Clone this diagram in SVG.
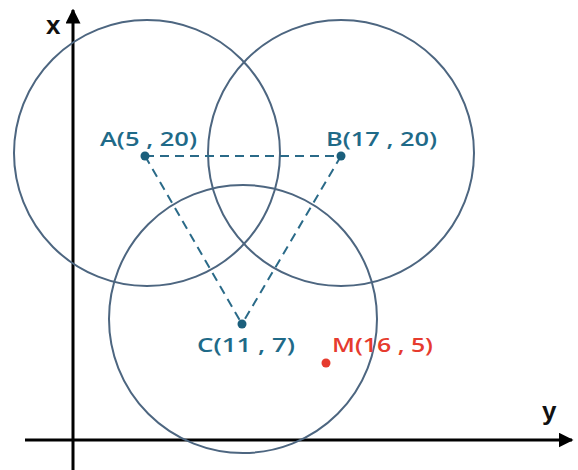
<svg xmlns="http://www.w3.org/2000/svg" width="578" height="470" viewBox="0 0 578 470">
<style>
.circ{fill:none;stroke:#4d6680;stroke-width:2}
.dash{fill:none;stroke:#2a6a88;stroke-width:2;stroke-dasharray:9 6}
.axis{fill:none;stroke:#000;stroke-width:3}
.dot{fill:#1b5f7c}
.lbl{font-family:"Open Sans","Liberation Sans",sans-serif;font-size:20px;font-weight:600;fill:#1f6a88}
.red{fill:#e63b2e}
.ax{font-family:"Liberation Sans",Arial,sans-serif;font-size:26px;font-weight:bold;fill:#111}
</style>
<defs>
<marker id="arr" viewBox="0 0 10 10" refX="9" refY="5" markerWidth="5" markerHeight="5" orient="auto" markerUnits="strokeWidth">
<path d="M0,0 L10,5 L0,10 Z" fill="#000"/>
</marker>
</defs>
<rect width="578" height="470" fill="#fff"/>
<g id="axes">
<line class="axis" x1="73" y1="470" x2="73" y2="10" marker-end="url(#arr)"/>
<line class="axis" x1="25" y1="440" x2="572" y2="440" marker-end="url(#arr)"/>
<text class="ax" x="46" y="34">x</text>
<text class="ax" x="542" y="420">y</text>
</g>
<g id="circle-A"><circle class="circ" cx="147" cy="153" r="133"/></g>
<g id="circle-B"><circle class="circ" cx="341" cy="153" r="133"/></g>
<g id="circle-C"><circle class="circ" cx="243" cy="319" r="134"/></g>
<g id="connectors">
<line class="dash" x1="145" y1="156" x2="341" y2="156"/>
<line class="dash" x1="145" y1="156" x2="242" y2="324"/>
<line class="dash" x1="341" y1="156" x2="242" y2="324"/>
</g>
<g id="node-A"><circle class="dot" cx="145" cy="156" r="4.5"/><text class="lbl" x="100" y="146" textLength="97" lengthAdjust="spacingAndGlyphs">A(5 , 20)</text></g>
<g id="node-B"><circle class="dot" cx="341" cy="156" r="4.5"/><text class="lbl" x="326" y="146" textLength="111" lengthAdjust="spacingAndGlyphs">B(17 , 20)</text></g>
<g id="node-C"><circle class="dot" cx="242" cy="324" r="4.5"/><text class="lbl" x="197" y="352" textLength="98" lengthAdjust="spacingAndGlyphs">C(11 , 7)</text></g>
<g id="node-M"><circle class="dot red" cx="326" cy="363" r="4.5"/><text class="lbl red" x="332" y="352" textLength="101" lengthAdjust="spacingAndGlyphs">M(16 , 5)</text></g>
</svg>
